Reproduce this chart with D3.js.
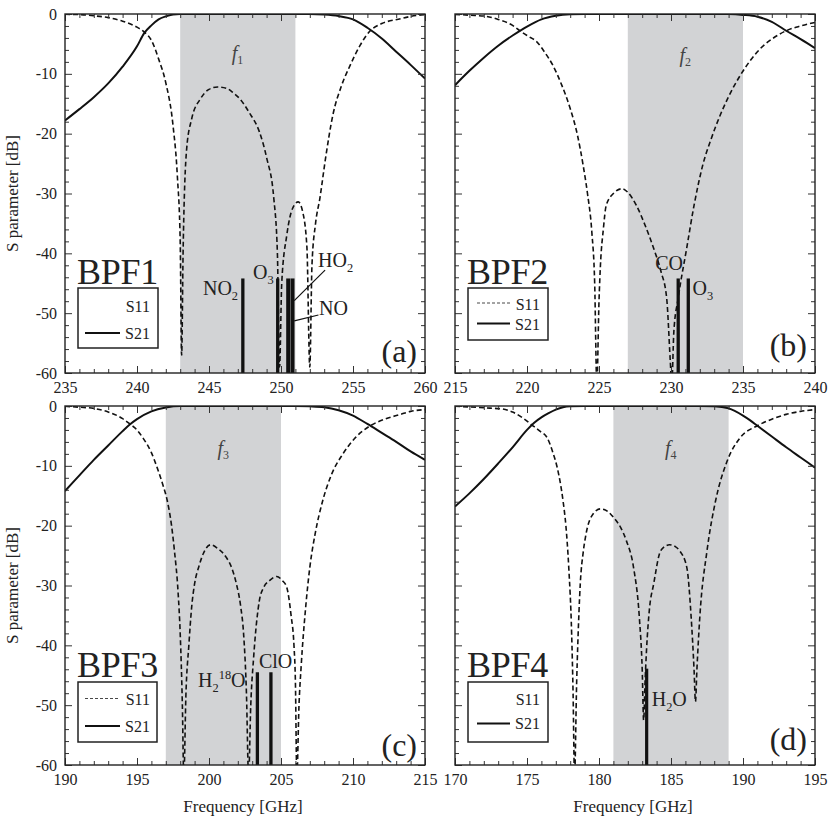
<!DOCTYPE html>
<html>
<head>
<meta charset="utf-8">
<script src="https://cdn.jsdelivr.net/npm/d3@7"></script>
<style>
  body { margin: 0; background: #fff; }
</style>
</head>
<body>
<svg id="chart" width="830" height="820"></svg>
<script>
// ================= data =================
var xDomains = [[235, 260], [215, 240], [190, 215], [170, 195]];
var bands = [[243, 251], [227, 235], [197, 205], [181, 189]];
var filterNames = ["BPF1", "BPF2", "BPF3", "BPF4"];
var panelTags = ["(a)", "(b)", "(c)", "(d)"];
var bandIndex = ["1", "2", "3", "4"];
var yTicks = [0, -10, -20, -30, -40, -50, -60];

// S11 (dashed) and S21 (solid), [GHz, dB]
var s11A = [[235,-0.05],[236,-0.1],[237,-0.3],[238,-0.6],[239,-1.2],[240,-2.2],[240.5,-3],[241,-4.4],
  [241.5,-7.5],[242,-11.5],[242.5,-18.6],[242.8,-27],[243,-38],[243.1,-57],[243.2,-40],[243.45,-22.5],
  [243.8,-17.5],[244.4,-14.2],[245,-12.6],[245.6,-12.2],[246.2,-12.4],[246.7,-13.2],[247.15,-14.2],
  [247.8,-16.5],[248.5,-19.7],[249,-24],[249.5,-30.8],[249.75,-40],[249.9,-59],[250.05,-45],[250.4,-37],
  [250.8,-32.5],[251.2,-31.4],[251.5,-33],[251.8,-39],[252.0,-59],[252.15,-42],[252.4,-35],[252.7,-30.8],
  [253.1,-24],[253.6,-16.9],[254.2,-12],[254.8,-8.6],[255.5,-5.2],[256.2,-2.8],[257,-1.6],[258.3,-0.8],
  [259,-0.4],[260,-0.1]];
var s21A = [[235,-17.8],[236,-15.9],[237,-13.9],[238,-11.6],[239,-8.8],[240,-5.4],[240.5,-3.2],[241,-1.9],
  [241.5,-0.9],[242,-0.4],[242.5,-0.1],[243,0],[246,0],[249,0],[252,0],[253,-0.1],[254,-0.35],[255,-0.9],
  [256,-2.3],[257,-4.1],[258,-6.3],[259,-8.5],[260,-10.8]];

var s11B = [[215,-0.05],[216,-0.2],[217.2,-0.4],[218,-0.9],[219,-1.9],[219.5,-2.8],[220,-3.6],[220.7,-4.7],
  [221.2,-6.3],[221.8,-8.6],[222.4,-11.8],[223,-15.8],[223.5,-20.2],[223.9,-25.3],[224.2,-30],[224.5,-36.4],
  [224.7,-45],[224.85,-62],[225,-48],[225.1,-42],[225.3,-36],[225.5,-32],[226,-30],[226.6,-29.2],[227,-29.8],
  [227.6,-32],[228.2,-35.3],[228.8,-39.2],[229.3,-43],[229.7,-47.5],[229.95,-58],[230.05,-62],[230.2,-53],
  [230.5,-47.5],[231.1,-39],[231.6,-32],[232.2,-25.3],[232.8,-20.8],[233.4,-17],[234,-13.8],[234.8,-10.3],
  [235.5,-7.8],[236.2,-5.8],[237,-4.2],[238,-2.8],[239,-2],[240,-1.4]];
var s21B = [[215,-11.9],[216,-9.5],[217,-7.3],[218,-5.3],[219,-3.6],[220,-2.1],[221,-0.9],[222,-0.3],
  [223,-0.05],[224,0],[227,0],[230,0],[233,0],[234,-0.02],[235,-0.15],[236,-0.45],[237,-1.3],[238,-2.8],
  [239,-4.2],[240,-5.7]];

var s11C = [[190,-0.05],[191,-0.2],[192,-0.4],[193,-1],[194,-2.1],[194.5,-3],[195,-4],[195.4,-5.3],
  [196,-7.8],[196.4,-10.3],[196.8,-13.2],[197.1,-15.8],[197.4,-20],[197.6,-24.2],[197.85,-31],[198.0,-38],
  [198.15,-50],[198.25,-62],[198.4,-48],[198.6,-40],[198.8,-33.5],[199.0,-29.7],[199.3,-26.8],[199.6,-24.7],
  [200.1,-23.2],[200.6,-23.8],[201.2,-25.3],[201.6,-27.2],[201.9,-29.7],[202.2,-33.5],[202.4,-38],[202.6,-48],
  [202.75,-62],[202.9,-50],[203.1,-42],[203.5,-32.5],[203.8,-30.3],[204.2,-29.2],[204.7,-28.5],[205.1,-29.2],
  [205.4,-30.3],[205.7,-35],[205.9,-40],[206.0,-46],[206.1,-62],[206.25,-50],[206.4,-43.5],[206.7,-34],
  [207.0,-27],[207.4,-21],[207.9,-15.8],[208.5,-11.5],[209.3,-8],[210.2,-5.2],[211.2,-3.3],[212.2,-2.2],
  [213.3,-1.4],[214,-0.9],[215,-0.6]];
var s21C = [[190,-14.2],[191,-11.6],[192,-9.0],[193,-6.6],[194,-4.2],[194.5,-3.1],[195,-2.2],[196,-0.9],
  [197,-0.25],[198,0],[200,0],[203,0],[206,0],[207,-0.05],[208,-0.2],[209,-0.7],[210,-1.6],[211,-3.0],
  [212,-4.5],[213,-6.0],[214,-7.6],[215,-9.0]];

var s11D = [[170,-0.05],[171,-0.15],[172,-0.3],[173.3,-0.5],[174,-1.0],[174.7,-2],[175.3,-3.1],[175.9,-4.2],
  [176.4,-5.3],[176.8,-7.8],[177.1,-10.3],[177.5,-15.8],[177.7,-20],[177.9,-27],[178.1,-38],[178.2,-48],
  [178.3,-62],[178.45,-46],[178.6,-35],[178.7,-29.7],[178.9,-24.5],[179.1,-21.4],[179.6,-18],[180.1,-17.2],
  [180.6,-17.6],[181.0,-18.6],[181.5,-20.3],[181.9,-22.5],[182.4,-27],[182.8,-35.3],[183.0,-44],[183.1,-52.5],
  [183.2,-46],[183.3,-40.8],[183.5,-34],[183.8,-29.7],[184.2,-24.7],[184.5,-23.6],[184.9,-23.2],[185.3,-23.5],
  [185.6,-24.2],[186.1,-27],[186.4,-35.3],[186.6,-44],[186.7,-49.4],[186.8,-44],[187.0,-35.3],[187.5,-24.2],
  [188.1,-15.8],[188.9,-9.2],[189.8,-5.3],[191,-3.3],[192,-2.2],[193,-1.4],[194,-0.9],[195,-0.6]];
var s21D = [[170,-16.8],[171,-14.6],[172,-12.2],[173,-9.6],[174,-6.9],[175,-4.0],[175.5,-2.8],[176,-1.9],
  [176.5,-1.2],[177,-0.6],[177.5,-0.2],[178,-0.05],[179,0],[183,0],[187,0],[188,-0.05],[189,-0.4],
  [190,-1.6],[190.5,-2.4],[191,-3.3],[192,-5.1],[193,-6.9],[194,-8.6],[195,-10.3]];

// molecular lines [GHz, top dB]
var linesA = [[247.35,-44.2],[249.77,-44.2],[250.5,-44.2],[250.8,-44.2]];
var linesB = [[230.5,-44.2],[231.2,-44.2]];
var linesC = [[203.36,-44.5],[204.3,-44.5]];
var linesD = [[183.31,-43.9]];

// ================= layout =================
var FONT = "'Liberation Serif', 'Times New Roman', Times, serif";
var W = 360, H = 359;
var svg = d3.select("#chart");

var panels = [
  { left: 65, top: 14, s11: s11A, s21: s21A, lines: linesA, barW: [3.3, 3.3, 4, 4],
    legend: { box: [78, 288, 80, 60], t1: 311.5, t2: 339, l1: null, l2: 333, lx: [85, 120] },
    nameY: 284, tagY: 362, fY: 60,
    notes: [
      { f: 244.58, db: -46.97, parts: [["NO", "n"], ["2", "sub"]] },
      { f: 248.06, db: -44.3, parts: [["O", "n"], ["3", "sub"]] },
      { f: 252.57, db: -42.3, parts: [["HO", "n"], ["2", "sub"]] },
      { f: 252.64, db: -50.3, parts: [["NO", "n"]] }
    ],
    leaders: [[[250.92, -47.9], [253.06, -42.8]], [[250.92, -51.3], [252.6, -50.3]]] },
  { left: 455, top: 14, s11: s11B, s21: s21B, lines: linesB, barW: [3.3, 3.3],
    legend: { box: [468, 288, 80, 52], t1: 310, t2: 330, l1: 303, l2: 323.5, lx: [477, 510] },
    nameY: 284, tagY: 356, fY: 62,
    notes: [
      { f: 228.9, db: -42.8, parts: [["CO", "n"]] },
      { f: 231.5, db: -47, parts: [["O", "n"], ["3", "sub"]] }
    ],
    leaders: [] },
  { left: 65, top: 406, s11: s11C, s21: s21C, lines: linesC, barW: [3.3, 3.3],
    legend: { box: [78, 682, 79, 60], t1: 705, t2: 732, l1: 698.5, l2: 726, lx: [85, 120] },
    nameY: 677, tagY: 756, fY: 455,
    notes: [
      { f: 199.24, db: -46.9, parts: [["H", "n"], ["2", "sub"], ["18", "sup"], ["O", "n"]] },
      { f: 203.47, db: -43.8, parts: [["ClO", "n"]] }
    ],
    leaders: [] },
  { left: 455, top: 406, s11: s11D, s21: s21D, lines: linesD, barW: [3.2],
    legend: { box: [468, 682, 80, 60], t1: 705, t2: 728.5, l1: null, l2: 723.5, lx: [477, 510] },
    nameY: 677, tagY: 750, fY: 455,
    notes: [
      { f: 183.66, db: -50.1, parts: [["H", "n"], ["2", "sub"], ["O", "n"]] }
    ],
    leaders: [] }
];

// text with sub/superscripts
function richText(g, x, y, parts, size) {
  var t = g.append("text").attr("x", x).attr("y", y).attr("font-size", size);
  var shift = 0;
  parts.forEach(function(p) {
    var target = p[1] === "sub" ? 5 : (p[1] === "sup" ? -8 : 0);
    t.append("tspan")
      .attr("dy", target - shift)
      .attr("font-size", p[1] === "n" ? size : size * 0.62)
      .text(p[0]);
    shift = target;
  });
  return t;
}

panels.forEach(function(p, i) {
  var x = d3.scaleLinear().domain(xDomains[i]).range([0, W]);
  var y = d3.scaleLinear().domain([0, -60]).range([0, H]);

  var g = svg.append("g").attr("transform", "translate(" + p.left + "," + p.top + ")");

  g.append("clipPath").attr("id", "clip" + i)
    .append("rect").attr("width", W).attr("height", H);

  // shaded band
  g.append("rect")
    .attr("x", x(bands[i][0]))
    .attr("y", 0)
    .attr("width", x(bands[i][1]) - x(bands[i][0]))
    .attr("height", H)
    .attr("fill", "#d2d3d5");

  // band label f_n
  var ft = g.append("text")
    .attr("x", (x(bands[i][0]) + x(bands[i][1])) / 2 - 6)
    .attr("y", p.fY - p.top)
    .attr("font-size", 20)
    .attr("class", "flab");
  ft.append("tspan").attr("font-style", "italic").text("f");
  ft.append("tspan").attr("dy", 4).attr("font-size", 12).text(bandIndex[i]);

  // molecular lines
  g.selectAll(".mol")
    .data(p.lines)
    .enter()
    .append("line")
    .attr("x1", function(d) { return x(d[0]); })
    .attr("x2", function(d) { return x(d[0]); })
    .attr("y1", function(d) { return y(d[1]); })
    .attr("y2", H)
    .attr("stroke", "#111")
    .attr("stroke-width", function(d, j) { return p.barW[j]; });

  // curves
  var line = d3.line()
    .x(function(d) { return x(d[0]); })
    .y(function(d) { return y(d[1]); })
    .curve(d3.curveMonotoneX);

  var curves = g.append("g").attr("clip-path", "url(#clip" + i + ")");
  curves.append("path")
    .datum(p.s11)
    .attr("d", line)
    .attr("fill", "none")
    .attr("stroke", "#111")
    .attr("stroke-width", 1.6)
    .attr("stroke-dasharray", "5,3");
  curves.append("path")
    .datum(p.s21)
    .attr("d", line)
    .attr("fill", "none")
    .attr("stroke", "#111")
    .attr("stroke-width", 2);

  // annotations
  p.notes.forEach(function(n) {
    richText(g, x(n.f), y(n.db), n.parts, 20);
  });
  p.leaders.forEach(function(l) {
    g.append("line")
      .attr("x1", x(l[0][0])).attr("y1", y(l[0][1]))
      .attr("x2", x(l[1][0])).attr("y2", y(l[1][1]))
      .attr("stroke", "#111").attr("stroke-width", 1.2);
  });

  // axes (inward ticks on all sides)
  var majorX = d3.range(xDomains[i][0], xDomains[i][1] + 1, 5);
  var minorX = d3.range(xDomains[i][0], xDomains[i][1] + 1, 1).filter(function(v) { return v % 5 !== 0; });
  var minorY = d3.range(0, -61, -2).filter(function(v) { return v % 10 !== 0; });

  function styleAxis(a) {
    a.attr("font-family", null).attr("font-size", null).style("color", "#333");
    a.select(".domain").remove();
    a.selectAll("line").attr("stroke-width", 1);
    a.selectAll("text").attr("font-size", 16);
  }

  g.append("g").attr("transform", "translate(0," + H + ")")
    .call(d3.axisBottom(x).tickValues(majorX).tickSize(-7).tickPadding(9).tickFormat(function(d) { return String(d); }))
    .call(styleAxis);
  g.append("g").attr("transform", "translate(0," + H + ")")
    .call(d3.axisBottom(x).tickValues(minorX).tickSize(-4).tickFormat(""))
    .call(styleAxis);
  g.append("g")
    .call(d3.axisTop(x).tickValues(majorX).tickSize(-7).tickFormat(""))
    .call(styleAxis);
  g.append("g")
    .call(d3.axisTop(x).tickValues(minorX).tickSize(-4).tickFormat(""))
    .call(styleAxis);

  var showY = (i % 2 === 0);
  g.append("g")
    .call(d3.axisLeft(y).tickValues(yTicks).tickSize(-7).tickPadding(8)
      .tickFormat(function(d) { return showY ? String(d) : ""; }))
    .call(styleAxis);
  g.append("g")
    .call(d3.axisLeft(y).tickValues(minorY).tickSize(-4).tickFormat(""))
    .call(styleAxis);
  g.append("g").attr("transform", "translate(" + W + ",0)")
    .call(d3.axisRight(y).tickValues(yTicks).tickSize(-7).tickFormat(""))
    .call(styleAxis);
  g.append("g").attr("transform", "translate(" + W + ",0)")
    .call(d3.axisRight(y).tickValues(minorY).tickSize(-4).tickFormat(""))
    .call(styleAxis);

  // frame
  g.append("rect")
    .attr("width", W).attr("height", H)
    .attr("fill", "none").attr("stroke", "#222").attr("stroke-width", 1.4);

  // filter name
  svg.append("text")
    .attr("x", p.left + 12)
    .attr("y", p.nameY)
    .attr("font-size", 36)
    .attr("letter-spacing", -0.3)
    .text(filterNames[i]);

  // legend
  var lg = p.legend;
  svg.append("rect")
    .attr("x", lg.box[0]).attr("y", lg.box[1])
    .attr("width", lg.box[2]).attr("height", lg.box[3])
    .attr("fill", "#fff").attr("stroke", "#222").attr("stroke-width", 1.5);
  if (lg.l1 !== null) {
    svg.append("line")
      .attr("x1", lg.lx[0]).attr("x2", lg.lx[1]).attr("y1", lg.l1).attr("y2", lg.l1)
      .attr("stroke", "#333").attr("stroke-width", 0.9).attr("stroke-dasharray", "3,2");
  }
  svg.append("line")
    .attr("x1", lg.lx[0]).attr("x2", lg.lx[1]).attr("y1", lg.l2).attr("y2", lg.l2)
    .attr("stroke", "#111").attr("stroke-width", 2);
  svg.append("text").attr("x", lg.lx[1] + 30).attr("y", lg.t1)
    .attr("text-anchor", "end").attr("font-size", 16).text("S11");
  svg.append("text").attr("x", lg.lx[1] + 30).attr("y", lg.t2)
    .attr("text-anchor", "end").attr("font-size", 16).text("S21");

  // panel tag
  svg.append("text")
    .attr("x", p.left + W - 8)
    .attr("y", p.tagY)
    .attr("text-anchor", "end")
    .attr("font-size", 32)
    .text(panelTags[i]);

  // axis titles
  if (showY) {
    svg.append("text")
      .attr("transform", "translate(18," + (p.top + H / 2) + ") rotate(-90)")
      .attr("text-anchor", "middle")
      .attr("font-size", 17)
      .text("S parameter [dB]");
  }
  if (i >= 2) {
    svg.append("text")
      .attr("x", p.left + W / 2 - 2)
      .attr("y", 812)
      .attr("text-anchor", "middle")
      .attr("font-size", 17)
      .text("Frequency [GHz]");
  }
});

// one serif face for every label
svg.selectAll("text").style("font-family", FONT).style("fill", "#222");
svg.selectAll("text.flab").style("fill", "#444");
</script>
</body>
</html>
